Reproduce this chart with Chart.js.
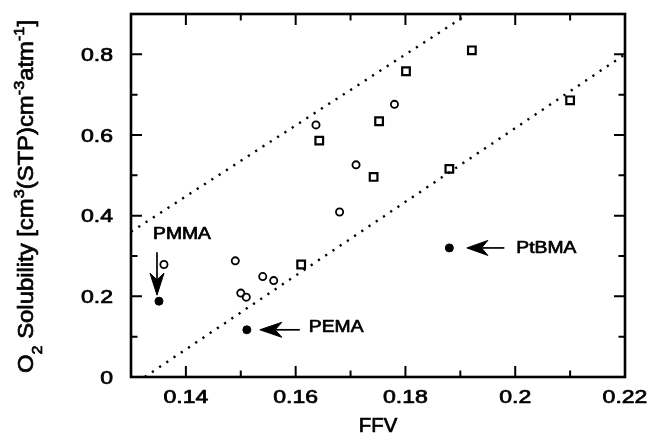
<!DOCTYPE html>
<html>
<head>
<meta charset="utf-8">
<script src="https://cdn.jsdelivr.net/npm/chart.js@4/dist/chart.umd.min.js"></script>
<style>
  html, body { margin: 0; padding: 0; background: #ffffff; }
  #wrap { width: 650px; height: 435px; }
</style>
</head>
<body>
<div id="wrap"><canvas id="c" width="650" height="435"></canvas></div>
<script>
// ---------------- data ----------------
const circleX = [0.136, 0.149, 0.150, 0.151, 0.154, 0.156, 0.1637, 0.168, 0.171, 0.178];
const circleY = [0.279, 0.288, 0.208, 0.198, 0.249, 0.239, 0.625, 0.409, 0.526, 0.676];

const squareX = [0.161, 0.1643, 0.1742, 0.1752, 0.1801, 0.188, 0.1921, 0.210];
const squareY = [0.279, 0.586, 0.496, 0.634, 0.758, 0.516, 0.810, 0.686];

const filledX = [0.1351, 0.1511, 0.188];
const filledY = [0.188, 0.117, 0.320];
const filledLabels = ['PMMA', 'PEMA', 'PtBMA'];

const upperLineX = [0.13, 0.1914];
const upperLineY = [0.36, 0.90];
const lowerLineX = [0.1325, 0.22];
const lowerLineY = [0.0, 0.80];

const xMin = 0.13, xMax = 0.22;
const yMin = 0, yMax = 0.9;
const xMajorTicks = [0.14, 0.16, 0.18, 0.20, 0.22];
const xMinorTicks = [0.15, 0.17, 0.19, 0.21];
const xTickLabels = ['0.14', '0.16', '0.18', '0.2', '0.22'];
const yMajorTicks = [0, 0.2, 0.4, 0.6, 0.8];
const yMinorTicks = [0.1, 0.3, 0.5, 0.7];
const yTickLabels = ['0', '0.2', '0.4', '0.6', '0.8'];

const xTitle = 'FFV';
// y title runs: [text, kind] kind: n = normal, sub, sup
const yTitleRuns = [['O','n'],['2','sub'],[' Solubility [cm','n'],['3','sup'],['(STP)cm','n'],['-3','sup'],['atm','n'],['-1','sup'],[']','n']];

const toPts = (xs, ys) => xs.map((x, i) => ({ x: x, y: ys[i] }));

// ---------------- styling helpers ----------------
const FONT = '"Liberation Sans", Arial, Helvetica, sans-serif';
const TEXT_STROKE = 0.7;

function stretchText(ctx, txt, x, y, size, sx, align) {
  ctx.font = size + 'px ' + FONT;
  const w = ctx.measureText(txt).width * sx;
  let left = x;
  if (align === 'center') left = x - w / 2;
  else if (align === 'right') left = x - w;
  ctx.save();
  ctx.translate(left, y);
  ctx.scale(sx, 1);
  ctx.textAlign = 'left';
  ctx.textBaseline = 'alphabetic';
  ctx.lineWidth = TEXT_STROKE;
  ctx.lineJoin = 'round';
  ctx.fillText(txt, 0, 0);
  ctx.strokeText(txt, 0, 0);
  ctx.restore();
}

function arrow(ctx, tx, ty, hx, hy, headLen, halfW) {
  const dx = hx - tx, dy = hy - ty;
  const L = Math.hypot(dx, dy);
  const ux = dx / L, uy = dy / L;
  const px = -uy, py = ux;
  ctx.save();
  ctx.strokeStyle = '#000';
  ctx.fillStyle = '#000';
  ctx.lineWidth = 1.7;
  ctx.beginPath();
  ctx.moveTo(tx, ty);
  ctx.lineTo(hx - ux * headLen * 0.5, hy - uy * headLen * 0.5);
  ctx.stroke();
  const bx = hx - ux * headLen, by = hy - uy * headLen;
  const nx = hx - ux * headLen * 0.7, ny = hy - uy * headLen * 0.7;
  ctx.beginPath();
  ctx.moveTo(hx, hy);
  ctx.lineTo(bx + px * halfW, by + py * halfW);
  ctx.lineTo(nx, ny);
  ctx.lineTo(bx - px * halfW, by - py * halfW);
  ctx.closePath();
  ctx.fill();
  ctx.lineWidth = 1;
  ctx.lineJoin = 'round';
  ctx.stroke();
  ctx.restore();
}

// annotation layout: offsets (pixels) relative to the filled point
const annotStyle = [
  { tip: [-2, -6], tail: [-2, -49], head: 22, half: 7, text: [23, -62], align: 'center' },
  { tip: [13, 0], tail: [53, 0], head: 22, half: 7.5, text: [62, 2.5], align: 'left' },
  { tip: [17.5, 0], tail: [55, 0], head: 21, half: 7.5, text: [67, 5.5], align: 'left' }
];

const framePlugin = {
  id: 'framePlugin',
  afterDatasetsDraw(chart) {
    const ctx = chart.ctx;
    const a = chart.chartArea;
    const xs = chart.scales.x, ys = chart.scales.y;
    ctx.save();
    ctx.fillStyle = '#000';
    ctx.strokeStyle = '#000';
    // frame
    ctx.lineWidth = 2.6;
    ctx.strokeRect(a.left, a.top, a.right - a.left, a.bottom - a.top);
    // ticks
    ctx.lineWidth = 2;
    const major = 11, minor = 6.5;
    ctx.beginPath();
    xMajorTicks.concat(xMinorTicks).forEach((v, i) => {
      const len = i < xMajorTicks.length ? major : minor;
      const px = xs.getPixelForValue(v);
      ctx.moveTo(px, a.bottom); ctx.lineTo(px, a.bottom - len);
      ctx.moveTo(px, a.top); ctx.lineTo(px, a.top + len);
    });
    yMajorTicks.concat(yMinorTicks).forEach((v, i) => {
      const len = i < yMajorTicks.length ? major : minor;
      const py = ys.getPixelForValue(v);
      ctx.moveTo(a.left, py); ctx.lineTo(a.left + len, py);
      ctx.moveTo(a.right, py); ctx.lineTo(a.right - len, py);
    });
    ctx.stroke();

    // tick labels
    xMajorTicks.forEach((v, i) => {
      stretchText(ctx, xTickLabels[i], xs.getPixelForValue(v), a.bottom + 25.5, 18, 1.28, 'center');
    });
    yMajorTicks.forEach((v, i) => {
      stretchText(ctx, yTickLabels[i], a.left - 18, ys.getPixelForValue(v) + 6.5, 18, 1.28, 'right');
    });

    // x title
    stretchText(ctx, xTitle, (a.left + a.right) / 2, 432, 20, 1.02, 'center');

    // y title (rotated)
    const big = 22, small = 15;
    let total = 0;
    yTitleRuns.forEach(r => {
      ctx.font = (r[1] === 'n' ? big : small) + 'px ' + FONT;
      total += ctx.measureText(r[0]).width;
    });
    const targetLen = 353;
    const sc = targetLen / total;
    ctx.save();
    ctx.translate(33, 373);
    ctx.rotate(-Math.PI / 2);
    ctx.scale(sc, 1);
    ctx.textAlign = 'left';
    ctx.textBaseline = 'alphabetic';
    ctx.lineWidth = TEXT_STROKE;
    ctx.lineJoin = 'round';
    let cx = 0;
    yTitleRuns.forEach(r => {
      const sz = r[1] === 'n' ? big : small;
      ctx.font = sz + 'px ' + FONT;
      const dy = r[1] === 'sub' ? 9 : (r[1] === 'sup' ? -9 : 0);
      ctx.fillText(r[0], cx, dy);
      ctx.strokeText(r[0], cx, dy);
      cx += ctx.measureText(r[0]).width;
    });
    ctx.restore();

    // annotations
    filledX.forEach((xv, i) => {
      const px = xs.getPixelForValue(xv), py = ys.getPixelForValue(filledY[i]);
      const s = annotStyle[i];
      arrow(ctx, px + s.tail[0], py + s.tail[1], px + s.tip[0], py + s.tip[1], s.head, s.half);
      stretchText(ctx, filledLabels[i], px + s.text[0], py + s.text[1], 16.5, 1.17, s.align);
    });
    ctx.restore();
  }
};

new Chart(document.getElementById('c'), {
  type: 'scatter',
  data: {
    datasets: [
      {
        label: 'upper', data: toPts(upperLineX, upperLineY), showLine: true,
        borderColor: '#000', borderWidth: 2.4, borderDash: [2.2, 6.5], pointRadius: 0, fill: false
      },
      {
        label: 'lower', data: toPts(lowerLineX, lowerLineY), showLine: true,
        borderColor: '#000', borderWidth: 2.4, borderDash: [2.2, 6.5], pointRadius: 0, fill: false
      },
      {
        label: 'circles', data: toPts(circleX, circleY), pointStyle: 'circle',
        pointRadius: 3.6, borderColor: '#000', borderWidth: 1.8, backgroundColor: 'rgba(0,0,0,0)'
      },
      {
        label: 'squares', data: toPts(squareX, squareY), pointStyle: 'rect',
        pointRadius: 5.4, borderColor: '#000', borderWidth: 2.2, backgroundColor: 'rgba(0,0,0,0)'
      },
      {
        label: 'filled', data: toPts(filledX, filledY), pointStyle: 'circle',
        pointRadius: 4, borderColor: '#000', borderWidth: 1, backgroundColor: '#000'
      }
    ]
  },
  options: {
    responsive: false,
    animation: false,
    devicePixelRatio: 1,
    layout: { padding: { left: 131, right: 25, top: 14, bottom: 58 } },
    plugins: { legend: { display: false }, tooltip: { enabled: false } },
    scales: {
      x: {
        type: 'linear', min: xMin, max: xMax,
        grid: { display: false, drawTicks: false },
        border: { display: false },
        ticks: { display: false },
        title: { display: false }
      },
      y: {
        type: 'linear', min: yMin, max: yMax,
        grid: { display: false, drawTicks: false },
        border: { display: false },
        ticks: { display: false },
        title: { display: false }
      }
    }
  },
  plugins: [framePlugin]
});
</script>
</body>
</html>
